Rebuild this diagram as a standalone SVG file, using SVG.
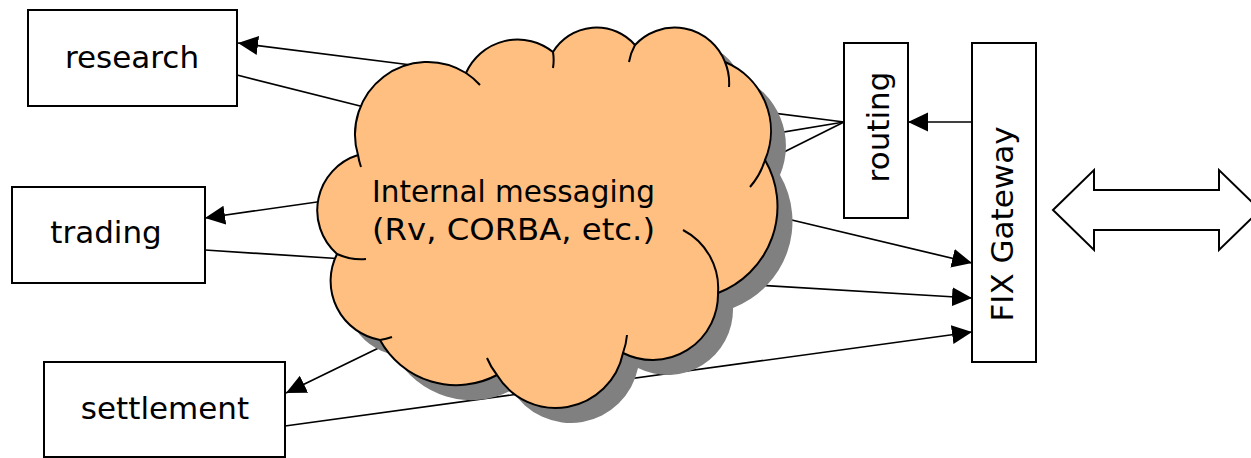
<svg xmlns="http://www.w3.org/2000/svg" width="1251" height="458" viewBox="0 0 1251 458">
<style>
.box{fill:#fff;stroke:#000;stroke-width:2}
.ln{fill:none;stroke:#000;stroke-width:1.7}
.arr{fill:none;stroke:#000;stroke-width:1.7;marker-end:url(#ah)}
.lbl{font-family:"DejaVu Sans","Liberation Sans",sans-serif;font-size:31px;fill:#000}
.cloud{fill:#FFBF80;stroke:#000;stroke-width:2;stroke-linejoin:round}
.tail{fill:none;stroke:#000;stroke-width:2}
</style>
<defs>
<marker id="ah" markerUnits="userSpaceOnUse" markerWidth="22" markerHeight="20" refX="20" refY="9.5" orient="auto">
<path d="M0,0 L20,9.5 L0,19 Z" fill="#000"/>
</marker>
<path id="cloudShape" d="M358,155 A72.5,72.5 0 0 1 466,73 A56.5,56.5 0 0 1 553,52 A51,51 0 0 1 635,45 A54,54 0 0 1 725,62 A74.6,74.6 0 0 1 765,160 A92.7,92.7 0 0 1 718,293 A65.5,65.5 0 0 1 623,353 A68.7,68.7 0 0 1 497,375 A86.9,86.9 0 0 1 380,340 A60,60 0 0 1 337,254 A58,58 0 0 1 358,155 Z"/>
</defs>
<rect width="1251" height="458" fill="#fff"/>

<g id="connectors">
<line class="arr" x1="435" y1="68" x2="238" y2="43"/>
<line class="ln" x1="237" y1="75" x2="400" y2="116"/>
<line class="arr" x1="345" y1="198" x2="205" y2="218"/>
<line class="ln" x1="205" y1="250" x2="360" y2="260"/>
<line class="arr" x1="395" y1="340" x2="286" y2="393"/>
<line class="arr" x1="285" y1="426" x2="972" y2="332"/>
<line class="arr" x1="775" y1="216" x2="972" y2="263"/>
<line class="arr" x1="755" y1="285" x2="972" y2="298"/>
<line class="ln" x1="844" y1="122" x2="750" y2="110"/>
<line class="ln" x1="844" y1="122" x2="760" y2="136"/>
<line class="ln" x1="844" y1="122" x2="770" y2="159"/>
<line class="arr" x1="972" y1="122" x2="908" y2="122"/>
</g>

<g id="cloud">
<use href="#cloudShape" transform="translate(15,15)" fill="#808080"/>
<use href="#cloudShape" class="cloud"/>
<path class="tail" d="M361,167 A72.5,72.5 0 0 1 358,155 M466,73 A72.5,72.5 0 0 1 480,85 M553,52 A50,50 0 0 1 553,68 M629,62 A54,54 0 0 1 635,45 M725,62 A54,54 0 0 1 729,87 M765,160 A74.6,74.6 0 0 1 750,187 M683,230 A65.5,65.5 0 0 1 718,293 M627,335 A68.7,68.7 0 0 1 623,353 M497,375 A68.7,68.7 0 0 1 487,358 M392,337 A60,60 0 0 1 380,340 M366,259 A58,58 0 0 1 337,254"/>
<text class="lbl" x="372" y="202" textLength="283" lengthAdjust="spacingAndGlyphs">Internal messaging</text>
<text class="lbl" x="372" y="240" textLength="283" lengthAdjust="spacingAndGlyphs">(Rv, CORBA, etc.)</text>
</g>

<g id="research">
<rect class="box" x="28" y="10" width="209" height="96"/>
<text class="lbl" x="132" y="68" text-anchor="middle">research</text>
</g>
<g id="trading">
<rect class="box" x="12" y="187" width="193" height="96"/>
<text class="lbl" x="106" y="243" text-anchor="middle">trading</text>
</g>
<g id="settlement">
<rect class="box" x="44" y="362" width="241" height="95"/>
<text class="lbl" x="165" y="419" text-anchor="middle">settlement</text>
</g>
<g id="routing">
<rect class="box" x="844" y="43" width="64" height="175"/>
<text class="lbl" transform="translate(889,127) rotate(-90)" text-anchor="middle">routing</text>
</g>
<g id="fix-gateway">
<rect class="box" x="972" y="43" width="64" height="319"/>
<text class="lbl" transform="translate(1013,224) rotate(-90)" text-anchor="middle">FIX Gateway</text>
</g>
<g id="external-link">
<polygon points="1053,210 1094,170 1094,190 1219,190 1219,170 1260,210 1219,250 1219,230 1094,230 1094,250" fill="#fff" stroke="#000" stroke-width="2"/>
</g>
</svg>
